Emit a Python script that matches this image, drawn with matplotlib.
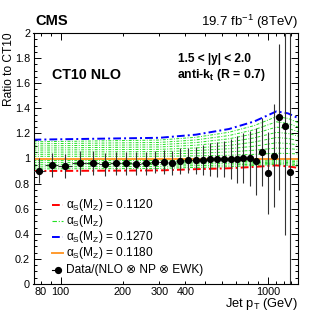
import matplotlib
matplotlib.use("Agg")
import matplotlib.pyplot as plt
from matplotlib.lines import Line2D
from matplotlib.ticker import FixedLocator, FuncFormatter, MultipleLocator
import numpy as np

plt.rcParams["font.family"] = ["Liberation Sans", "DejaVu Sans"]
plt.rcParams["mathtext.fontset"] = "custom"
plt.rcParams["mathtext.rm"] = "Liberation Sans"
plt.rcParams["mathtext.it"] = "Liberation Sans:italic"
plt.rcParams["mathtext.bf"] = "Liberation Sans:bold"

# jet pT bin edges (GeV)
pt_lo = [74, 84, 97, 114, 133, 153, 174, 196, 220, 245, 272, 300, 330, 362, 395, 430,
         468, 507, 548, 592, 638, 686, 737, 790, 846, 905, 967, 1032, 1101, 1172, 1248]
pt_hi = [84, 97, 114, 133, 153, 174, 196, 220, 245, 272, 300, 330, 362, 395, 430, 468,
         507, 548, 592, 638, 686, 737, 790, 846, 905, 967, 1032, 1101, 1172, 1248, 1327]

# Data/(NLO x NP x EWK)
data_ratio = [0.903, 0.948, 0.940, 0.967, 0.964, 0.954, 0.961, 0.961, 0.958, 0.961,
              0.972, 0.969, 0.964, 0.980, 0.985, 0.985, 0.985, 0.993, 0.993, 0.998,
              0.998, 0.993, 1.007, 1.001, 0.977, 1.049, 0.884, 1.022, 1.331, 1.259, 0.895]
data_err = [0.10, 0.093, 0.095, 0.095, 0.093, 0.09, 0.09, 0.09, 0.09, 0.09,
            0.09, 0.095, 0.095, 0.10, 0.10, 0.11, 0.12, 0.13, 0.14, 0.145,
            0.16, 0.19, 0.20, 0.22, 0.27, 0.27, 0.33, 0.41, 0.58, 0.87, 1.2]

# theory curves, ratio to CT10 (alpha_s = 0.118)
knot_pt = [74, 300, 450, 650, 860, 1100, 1250, 1410]
ratio_0112 = [0.900, 0.905, 0.915, 0.922, 0.933, 0.945, 0.937, 0.925]
ratio_0127 = [1.150, 1.165, 1.190, 1.235, 1.295, 1.375, 1.360, 1.320]
ratio_0118 = [1.0, 1.0, 1.0, 1.0, 1.0, 1.0, 1.0, 1.0]
green_ratios = [
    [0.917, 0.921, 0.929, 0.935, 0.944, 0.954, 0.947, 0.937],
    [0.933, 0.937, 0.943, 0.948, 0.955, 0.963, 0.958, 0.950],
    [0.950, 0.952, 0.957, 0.961, 0.966, 0.972, 0.968, 0.962],
    [0.967, 0.968, 0.972, 0.974, 0.978, 0.982, 0.979, 0.975],
    [0.983, 0.984, 0.986, 0.987, 0.989, 0.991, 0.989, 0.987],
    [1.017, 1.018, 1.021, 1.026, 1.033, 1.042, 1.040, 1.036],
    [1.033, 1.037, 1.042, 1.052, 1.066, 1.083, 1.080, 1.071],
    [1.050, 1.055, 1.063, 1.078, 1.098, 1.125, 1.120, 1.107],
    [1.067, 1.073, 1.084, 1.104, 1.131, 1.167, 1.160, 1.142],
    [1.083, 1.092, 1.106, 1.131, 1.164, 1.208, 1.200, 1.178],
    [1.100, 1.110, 1.127, 1.157, 1.197, 1.250, 1.240, 1.213],
    [1.117, 1.128, 1.148, 1.183, 1.229, 1.292, 1.280, 1.249],
    [1.133, 1.147, 1.169, 1.209, 1.262, 1.333, 1.320, 1.284],
]

x_labels = [80, 100, 200, 300, 400, 1000]

W, H = 332, 317


def fx(px):
    return px / W


def fy(py):
    return 1 - py / H


def main():
    fig = plt.figure(figsize=(W / 100, H / 100), dpi=100)
    ax = fig.add_axes([fx(33.5), fy(284), fx(298) - fx(33.5), fy(33) - fy(284)])

    dashdot = (0, (4, 1.6, 1, 1.6))
    for g in green_ratios:
        ax.plot(knot_pt, g, color="#22e022", lw=0.7, ls=(0, (3, 1.5, 1, 1.5)))
    ax.plot(knot_pt, ratio_0112, color="#ff0000", lw=1.4, ls=dashdot)
    ax.plot(knot_pt, ratio_0127, color="#0000ff", lw=1.4, ls=dashdot)
    ax.plot(knot_pt, ratio_0118, color="#ff9a2e", lw=1.4)

    lo = np.array(pt_lo, dtype=float)
    hi = np.array(pt_hi, dtype=float)
    x = (lo + hi) / 2
    ax.errorbar(x, data_ratio, yerr=data_err, xerr=[x - lo, hi - x], fmt="o",
                color="black", ecolor="#333333", ms=4.2, elinewidth=0.8, capsize=0, zorder=5)

    ax.set_xscale("log")
    ax.set_xlim(74, 1400)
    ax.set_ylim(0, 2)

    ax.xaxis.set_major_locator(FixedLocator([100, 1000]))
    ax.xaxis.set_major_formatter(FuncFormatter(lambda v, p: "%d" % v))
    minors = [80, 90] + list(range(200, 1000, 100)) + [1100, 1200, 1300]
    ax.xaxis.set_minor_locator(FixedLocator(minors))
    ax.xaxis.set_minor_formatter(FuncFormatter(lambda v, p: "%d" % v if int(round(v)) in x_labels else ""))
    ax.yaxis.set_major_locator(MultipleLocator(0.2))
    ax.yaxis.set_minor_locator(MultipleLocator(0.05))
    ax.yaxis.set_major_formatter(FuncFormatter(lambda v, p: "%g" % round(v, 2)))

    ax.tick_params(which="both", direction="in", top=True, right=True, labelsize=7.8, width=0.7)
    ax.tick_params(axis="y", which="major", length=5, pad=2.5)
    ax.tick_params(axis="y", which="minor", length=2.5)
    ax.tick_params(axis="x", which="major", length=5, pad=2.5)
    ax.tick_params(axis="x", which="minor", length=2.5, pad=2.5, labelsize=7.8)
    for s in ax.spines.values():
        s.set_linewidth(0.8)

    fig.text(fx(9), fy(32), "Ratio to CT10", rotation=90, ha="center", va="top", fontsize=8.6)
    fig.text(fx(298), fy(307), r"Jet p$_\mathregular{T}$ (GeV)", ha="right", va="baseline", fontsize=9.3)
    fig.text(fx(35), fy(25), "CMS", fontsize=10.5, fontweight="bold", va="baseline")
    fig.text(fx(298), fy(26), r"19.7 fb$^\mathregular{-1}$ (8TeV)", fontsize=9.5, ha="right", va="baseline")
    fig.text(fx(52), fy(79), "CT10 NLO", fontsize=10.3, fontweight="bold", va="baseline")
    fig.text(fx(178), fy(62), "1.5 < |y| < 2.0", fontsize=8.6, fontweight="bold", va="baseline")
    fig.text(fx(177), fy(78), r"anti-k$_\mathbf{t}$ (R = 0.7)", fontsize=8.8, fontweight="bold", va="baseline")

    # 凡例
    alpha_lbl = r"α$_\mathregular{S}$(M$_\mathregular{Z}$)"
    entries = [
        (dict(color="#ff0000", lw=1.4, ls=dashdot), alpha_lbl + " = 0.1120"),
        (dict(color="#22e022", lw=0.8, ls=dashdot), alpha_lbl),
        (dict(color="#0000ff", lw=1.4, ls=dashdot), alpha_lbl + " = 0.1270"),
        (dict(color="#ff9a2e", lw=1.4), alpha_lbl + " = 0.1180"),
    ]
    rows = [205, 221, 237, 253, 270]
    for (style, label), r in zip(entries, rows):
        fig.add_artist(Line2D([fx(52), fx(63)], [fy(r), fy(r)], transform=fig.transFigure, **style))
        fig.text(fx(66), fy(r), label, fontsize=8.6, va="center")
    fig.add_artist(Line2D([fx(52), fx(58)], [fy(rows[4]), fy(rows[4])], transform=fig.transFigure,
                          color="black", lw=0.8))
    fig.add_artist(Line2D([fx(58)], [fy(rows[4])], transform=fig.transFigure,
                          color="black", marker="o", ms=4.2))
    fig.text(fx(66), fy(rows[4]), "Data/(NLO ⊗ NP ⊗ EWK)", fontsize=8.6, va="center")

    fig.savefig("out.png", dpi=100)


if __name__ == "__main__":
    main()
